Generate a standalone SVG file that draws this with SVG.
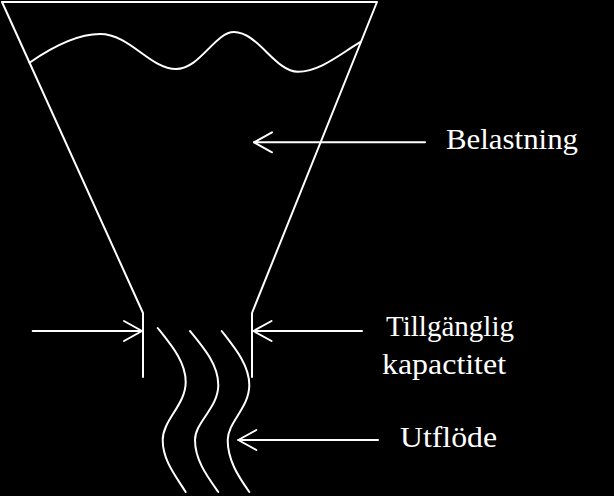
<svg xmlns="http://www.w3.org/2000/svg" width="614" height="496" viewBox="0 0 614 496">
<style>
.ln{fill:none;stroke:#fff;stroke-width:2;stroke-linecap:round;stroke-linejoin:round}
.lbl{fill:#fff;font-family:"Liberation Serif","Times New Roman",serif;font-size:30px}
</style>
<defs>
<marker id="ah" markerUnits="userSpaceOnUse" markerWidth="30" markerHeight="30" refX="0" refY="0" orient="auto" overflow="visible">
<path d="M-18,-10 L0,0 L-18,10" fill="none" stroke="#fff" stroke-width="2" stroke-linecap="round" stroke-linejoin="round"/>
</marker>
</defs>
<rect width="614" height="496" fill="#000"/>
<g id="funnel">
<path class="ln" d="M143,377 V313 L2,2 H377 L252,313 V377"/>
<path class="ln" d="M29.5,62.7 C55,45 78,34 100,34 C130,34 150,69 176,69 C200,69 215,32 234,32 C258,32 275,71.7 298,71.7 C320,71.7 340,54 361,41.7"/>
</g>
<g id="flow">
<path class="ln" d="M157.7,328 C172,346 185.7,362 185.7,382 C185.7,405 162.7,420 162.7,440 C162.7,460 175,475 185.7,492"/>
<path class="ln" d="M190,331 C204,348 218.3,365 218.3,385 C218.3,408 195,422 195,440 C195,460 207,476 218.3,492"/>
<path class="ln" d="M221.7,331 C235,348 249.3,365 249.3,385 C249.3,408 227.7,422 227.7,440 C227.7,460 238,476 249.3,492"/>
</g>
<g id="connectors">
<line class="ln" x1="425" y1="142.3" x2="254" y2="142.3" marker-end="url(#ah)"/>
<line class="ln" x1="32.7" y1="331" x2="142" y2="331" marker-end="url(#ah)"/>
<line class="ln" x1="362" y1="331" x2="253.5" y2="331" marker-end="url(#ah)"/>
<line class="ln" x1="378" y1="440" x2="238.3" y2="440" marker-end="url(#ah)"/>
</g>
<g id="label-belastning"><text class="lbl" x="446" y="149.3" textLength="132" lengthAdjust="spacingAndGlyphs">Belastning</text></g>
<g id="label-kapacitet">
<text class="lbl" x="386" y="336" textLength="128" lengthAdjust="spacingAndGlyphs">Tillgänglig</text>
<text class="lbl" x="382" y="374" textLength="124" lengthAdjust="spacingAndGlyphs">kapactitet</text>
</g>
<g id="label-utflode"><text class="lbl" x="400" y="446.7" textLength="97" lengthAdjust="spacingAndGlyphs">Utflöde</text></g>
</svg>
